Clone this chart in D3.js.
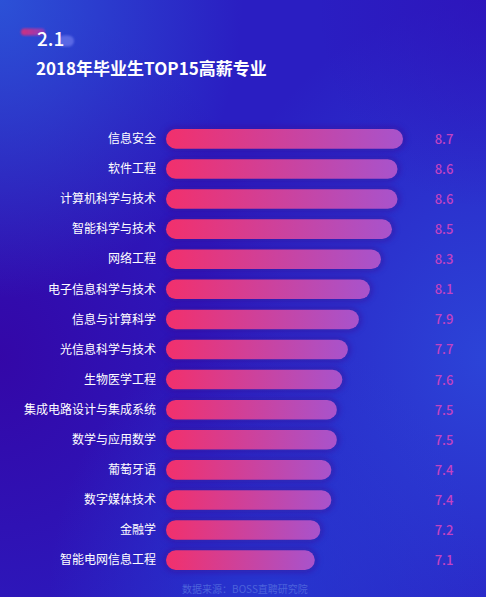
<!doctype html>
<html lang="zh">
<head>
  <meta charset="utf-8">
  <title>2018年毕业生TOP15高薪专业</title>
  <style>
  html, body { margin: 0; padding: 0; background: #2a1cc0; }
  svg { display: block; }
  text { font-family: "Noto Sans CJK SC", "Noto Sans", sans-serif; }
  </style>
</head>
<body>
<div id="chart"></div>
<script src="https://cdn.jsdelivr.net/npm/d3@7/dist/d3.min.js"></script>
<script>

// ---------- data
var majors = ["信息安全", "软件工程", "计算机科学与技术", "智能科学与技术", "网络工程",
              "电子信息科学与技术", "信息与计算科学", "光信息科学与技术", "生物医学工程",
              "集成电路设计与集成系统", "数学与应用数学", "葡萄牙语", "数字媒体技术",
              "金融学", "智能电网信息工程"];
var salary = [8.7, 8.6, 8.6, 8.5, 8.3, 8.1, 7.9, 7.7, 7.6, 7.5, 7.5, 7.4, 7.4, 7.2, 7.1];
var titleNo = "2.1";
var titleText = "2018年毕业生TOP15高薪专业";
var sourceText = "数据来源：BOSS直聘研究院";

// ---------- svg
var width = 486, height = 597;
var svg = d3.select("#chart").append("svg")
    .attr("width", width).attr("height", height);
var defs = svg.append("defs");

// background: base + a few soft glows
svg.append("rect").attr("width", width).attr("height", height).attr("fill", "#2a1ec2");

function glow(id, cx, cy, r, color, op) {
  var g = defs.append("radialGradient").attr("id", id)
      .attr("cx", cx).attr("cy", cy).attr("r", r);
  g.append("stop").attr("offset", 0).attr("stop-color", color).attr("stop-opacity", op);
  g.append("stop").attr("offset", 1).attr("stop-color", color).attr("stop-opacity", 0);
  svg.append("rect").attr("width", width).attr("height", height).attr("fill", "url(#" + id + ")");
}
glow("gLeft", 0.0, 0.6, 0.6, "#3406a6", 0.95);
glow("gRight", 1.0, 0.6, 0.6, "#2c48da", 0.9);
glow("gTop", 0.0, 0.0, 0.5, "#2c5ada", 0.85);
glow("gBottom", 0.55, 1.0, 0.45, "#2540d4", 0.7);
glow("gTR", 1.0, 0.0, 0.35, "#3010b8", 0.6);

// ---------- title
var pill = defs.append("linearGradient").attr("id", "pill");
pill.append("stop").attr("offset", 0).attr("stop-color", "#d0307e");
pill.append("stop").attr("offset", 1).attr("stop-color", "#8a3cc0");
defs.append("filter").attr("id", "soft").append("feGaussianBlur").attr("stdDeviation", 1);

svg.append("rect").attr("x", 21).attr("y", 28.5).attr("width", 24).attr("height", 7)
    .attr("rx", 3.5).attr("fill", "url(#pill)").attr("filter", "url(#soft)");
svg.append("rect").attr("x", 58).attr("y", 35.5).attr("width", 16).attr("height", 11)
    .attr("rx", 5.5).attr("fill", "#6470e8").attr("opacity", 0.85).attr("filter", "url(#soft)");

svg.append("text").attr("x", 37).attr("y", 46)
    .attr("fill", "#fff").attr("font-size", 19).attr("font-weight", 500)
    .text(titleNo);
svg.append("text").attr("x", 36).attr("y", 75)
    .attr("fill", "#fff").attr("font-size", 17).attr("font-weight", 700)
    .text(titleText);

// ---------- bars
var x = d3.scaleLinear().domain([4.4, 8.7]).range([166, 403]);
var y = d3.scaleBand().domain(majors).range([124, 575]).paddingInner(0.35).paddingOuter(0.17);

var barGrad = defs.append("linearGradient").attr("id", "barGrad");
barGrad.append("stop").attr("offset", 0).attr("stop-color", "#f2306c");
barGrad.append("stop").attr("offset", 1).attr("stop-color", "#a853cc");

defs.append("filter").attr("id", "halo")
    .attr("x", -0.2).attr("y", -1).attr("width", 1.4).attr("height", 3)
  .append("feGaussianBlur").attr("stdDeviation", 3);

var rows = svg.append("g").selectAll("g").data(majors).join("g")
    .attr("transform", function(d) { return "translate(0," + y(d) + ")"; });

rows.append("rect")
    .attr("x", x(4.4) - 2).attr("y", -2)
    .attr("width", function(d, i) { return x(salary[i]) - x(4.4) + 4; })
    .attr("height", y.bandwidth() + 4)
    .attr("rx", y.bandwidth() / 2 + 2)
    .attr("fill", "#3a0a90").attr("opacity", 0.5)
    .attr("filter", "url(#halo)");

rows.append("rect")
    .attr("x", x(4.4)).attr("y", 0)
    .attr("width", function(d, i) { return x(salary[i]) - x(4.4); })
    .attr("height", y.bandwidth())
    .attr("rx", y.bandwidth() / 2)
    .attr("fill", "url(#barGrad)");

rows.append("text")
    .attr("x", 156).attr("y", y.bandwidth() / 2).attr("dy", "0.35em")
    .attr("text-anchor", "end").attr("fill", "#fff").attr("font-size", 12)
    .text(function(d) { return d; });

rows.append("text")
    .attr("x", 444).attr("y", y.bandwidth() / 2).attr("dy", "0.38em")
    .attr("text-anchor", "middle").attr("fill", "#c242c2").attr("font-size", 13)
    .attr("font-weight", 500)
    .text(function(d, i) { return salary[i].toFixed(1); });

// ---------- source
svg.append("text").attr("x", 245).attr("y", 593)
    .attr("text-anchor", "middle").attr("fill", "#4c62da").attr("font-size", 10)
    .text(sourceText);

</script>
</body>
</html>
